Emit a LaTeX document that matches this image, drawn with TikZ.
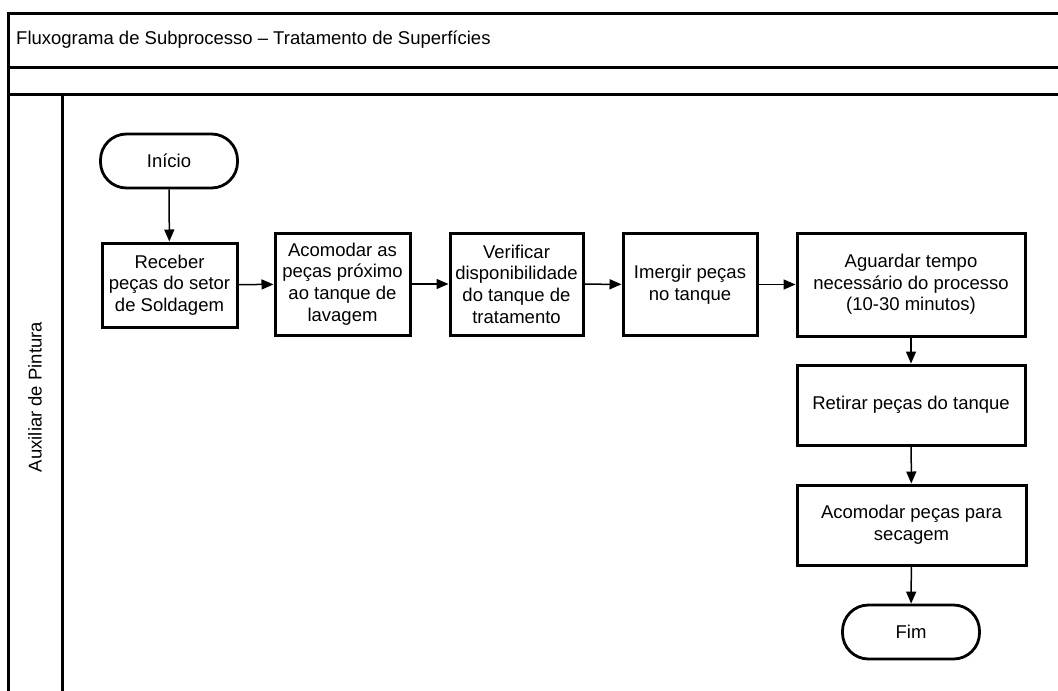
\documentclass[tikz,border=0pt]{standalone}
\usepackage{fontspec}
\setmainfont{Liberation Sans}
\usetikzlibrary{arrows.meta}
\begin{document}
\begin{tikzpicture}[x=1pt,y=-1pt,
  frame/.style={line width=3pt},
  txt/.style={font=\fontsize{18.5}{21.7}\selectfont, align=center, inner sep=0pt},
  stepbox/.style={draw, line width=3pt, txt, minimum width=#1, minimum height=102pt},
  stepbox/.default=134pt,
  terminal/.style={draw, line width=2.8pt, txt, rounded corners=26pt, minimum width=137pt, minimum height=54pt},
  flow/.style={line width=1.5pt, -{Triangle[length=12pt,width=10pt]}}
]
\useasboundingbox (0,0) rectangle (1058,691);
\fill[white] (0,0) rectangle (1058,691);

% pool frame and header rows
\draw[frame] (1061,13) -- (8,13) -- (8,694);
\draw[frame] (8,67) -- (1061,67);
\draw[frame] (8,94) -- (1061,94);
\draw[frame] (62,94) -- (62,694);
\node[txt, anchor=west] (title) at (16,40) {Fluxograma de Subprocesso -- Tratamento de Superfícies};
\node[txt, rotate=90] (lane) at (35,397) {Auxiliar de Pintura};

% flow steps
\node[terminal] (inicio) at (169,161) {Início};
\node[stepbox=135pt, minimum height=84pt] (receber) at (169.5,285) {Receber\\peças do setor\\de Soldagem};
\node[stepbox=135pt] (acomodar) at (342.5,284) {Acomodar as\\peças próximo\\ao tanque de\\lavagem};
\node[stepbox=133pt] (verificar) at (516.5,284) {Verificar\\disponibilidade\\do tanque de\\tratamento};
\node[stepbox=134pt] (imergir) at (690,284.5) {Imergir peças\\no tanque};
\node[stepbox=228pt, minimum height=103pt] (aguardar) at (911,284.5) {Aguardar tempo\\necessário do processo\\(10-30 minutos)};
\node[stepbox=228pt, minimum height=80pt] (retirar) at (911,405) {Retirar peças do tanque};
\node[stepbox=229pt, minimum height=80pt] (secagem) at (911.5,525) {Acomodar peças para\\secagem};
\node[terminal] (fim) at (911,632) {Fim};

% connectors
\draw[flow] (inicio) -- (receber);
\draw[flow] (receber) -- (acomodar);
\draw[flow] (acomodar) -- (verificar);
\draw[flow] (verificar) -- (imergir);
\draw[flow] (imergir) -- (aguardar);
\draw[flow] (aguardar) -- (retirar);
\draw[flow] (retirar) -- (secagem);
\draw[flow] (secagem) -- (fim);
\end{tikzpicture}
\end{document}
